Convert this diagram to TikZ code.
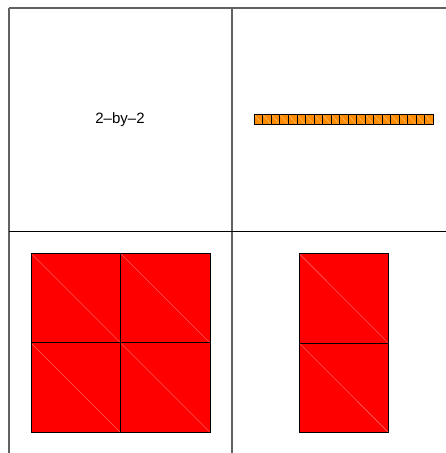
\documentclass[tikz,border=0pt]{standalone}
\usepackage{fontspec}
\setmainfont{Liberation Sans}
\usepackage{xcolor}
\usetikzlibrary{positioning}

\definecolor{tileorange}{RGB}{255,140,0}
\definecolor{tilered}{RGB}{255,0,0}

\begin{document}
\begin{tikzpicture}[x=1pt,y=-1pt,
  frame/.style={draw=black!62,line width=1.3pt},
  rule/.style={draw=black,line width=0.9pt},
  redtile/.style={fill=tilered},
  orgtile/.style={fill=tileorange},
  edge/.style={draw=black,line width=0.8pt},
  reddiag/.style={draw=red!55!white,line width=0.4pt},
  orgdiag/.style={draw=orange!45!white,line width=0.35pt},
  lbl/.style={inner sep=0pt,font=\fontsize{15}{18}\selectfont}]
  \useasboundingbox (0,0) rectangle (446,453);
  % panel frame
  \draw[frame] (9,8) -- (446,8);
  \draw[frame] (9,8) -- (9,453);
  \draw[frame] (232,8) -- (232,453);
  \draw[rule] (9,231.5) -- (446,231.5);
  % top left panel
  \node[lbl] (dims) at (120,119.8) {2–by–2};
  % top right panel: long strip
  \foreach \i in {0,...,20} {
    \path[orgtile] ({254.3+8.52*\i},114.7) rectangle ++(8.52,9.8);
    \draw[orgdiag] ({254.3+8.52*\i},114.7) -- ++(8.52,9.8);
    \draw[edge] ({254.3+8.52*\i},114.7) rectangle ++(8.52,9.8);
  }
  % bottom left panel: 2 x 2 block
  \foreach \i in {0,1} {
    \foreach \j in {0,1} {
      \path[redtile] ({31+89.5*\i},{253.3+89.5*\j}) rectangle ++(89.5,89.5);
      \draw[reddiag] ({31+89.5*\i},{253.3+89.5*\j}) -- ++(89.5,89.5);
      \draw[edge] ({31+89.5*\i},{253.3+89.5*\j}) rectangle ++(89.5,89.5);
    }
  }
  % bottom right panel: 2 x 1 block
  \foreach \j in {0,1} {
    \path[redtile] (299,{253.5+89.4*\j}) rectangle ++(89.3,89.4);
    \draw[reddiag] (299,{253.5+89.4*\j}) -- ++(89.3,89.4);
    \draw[edge] (299,{253.5+89.4*\j}) rectangle ++(89.3,89.4);
  }
\end{tikzpicture}
\end{document}
